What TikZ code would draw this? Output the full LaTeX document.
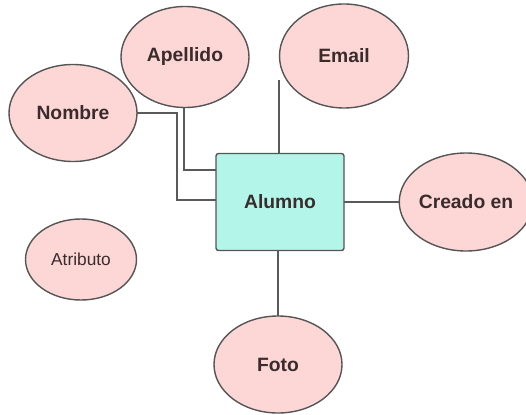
\documentclass[tikz,border=0pt]{standalone}
\usepackage{fontspec}
\setmainfont{Liberation Sans}
\usetikzlibrary{shapes.geometric,backgrounds}
\definecolor{attrfill}{HTML}{FDD6D6}
\definecolor{entfill}{HTML}{B4F5EA}
\definecolor{edgecol}{HTML}{555555}
\definecolor{linecol}{HTML}{5A5A5A}
\definecolor{txt}{HTML}{3A2C2C}
\begin{document}
\begin{tikzpicture}[x=1pt,y=-1pt,
  attr/.style={ellipse,draw=edgecol,line width=1.4pt,fill=attrfill,inner sep=0pt,
    text=txt,font=\fontsize{19.3}{22}\selectfont\bfseries},
  entity/.style={rectangle,rounded corners=2.5pt,draw=edgecol,line width=1.4pt,fill=entfill,
    inner sep=0pt,minimum width=128pt,minimum height=97pt,text=txt,
    font=\fontsize{19.3}{22}\selectfont\bfseries},
  conn/.style={draw=linecol,line width=1.3pt}]
\useasboundingbox (0,0) rectangle (526,414);
\node[entity] (alumno) at (280,202) {Alumno};
\node[attr,minimum width=128pt,minimum height=101pt] (apellido) at (185,57) {Apellido};
\node[attr,minimum width=128pt,minimum height=97pt] (nombre) at (73,113) {Nombre};
\node[attr,minimum width=129pt,minimum height=104pt] (email) at (344,56) {Email};
\node[attr,minimum width=119pt,minimum height=98pt] (creado) at (466,202) {Creado en};
\node[attr,minimum width=111pt,minimum height=81pt,font=\fontsize{17.3}{20}\selectfont] (atributo) at (81,259.5) {Atributo};
\node[attr,minimum width=128pt,minimum height=97pt] (foto) at (278,364.5) {Foto};
\coordinate (apc) at (184,170);
\coordinate (nc1) at (177,113);
\coordinate (nc2) at (177,200);
\coordinate (ec) at (279,80);
\begin{scope}[on background layer]
\draw[conn] (apellido.center -| apc) -- (apc) -- (apc -| alumno.center);
\draw[conn] (nombre.center) -- (nc1) -- (nc2) -- (nc2 -| alumno.center);
\draw[conn] (ec) -- (ec |- alumno.center);
\draw[conn] (alumno.center) -- (alumno.center -| creado.center);
\draw[conn] (alumno.center -| foto.center) -- (foto.center);
\end{scope}
\end{tikzpicture}
\end{document}
